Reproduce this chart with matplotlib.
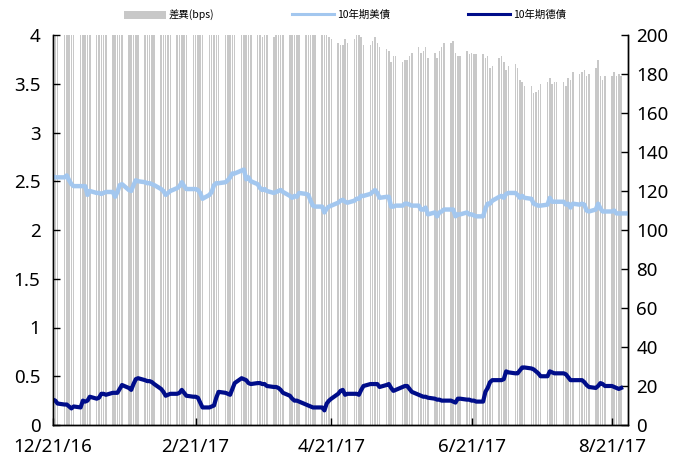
import numpy as np
import pandas as pd
import matplotlib
matplotlib.use("Agg")
import matplotlib.pyplot as plt
from matplotlib.patches import Patch
from matplotlib.lines import Line2D

plt.rcParams['font.family'] = ['Noto Sans', 'Noto Sans CJK TC', 'DejaVu Sans']

# business days 12/21/16 .. 8/28/17
dates = pd.bdate_range("2016-12-21", "2017-08-28")

# 10年期美債 (%), one row per week
us10y = [
    2.55, 2.54, 2.54,
    2.54, 2.56, 2.51, 2.47, 2.45,
    2.45, 2.45, 2.45, 2.36, 2.40,
    2.38, 2.38, 2.37, 2.38, 2.39,
    2.39, 2.34, 2.39, 2.46, 2.47,
    2.41, 2.40, 2.46, 2.51, 2.50,
    2.49, 2.48, 2.48, 2.47, 2.46,
    2.42, 2.40, 2.36, 2.38, 2.40,
    2.43, 2.45, 2.49, 2.45, 2.42,
    2.42, 2.42, 2.41, 2.38, 2.32,
    2.36, 2.39, 2.46, 2.48, 2.48,
    2.49, 2.51, 2.54, 2.58, 2.58,
    2.61, 2.62, 2.52, 2.54, 2.50,
    2.47, 2.43, 2.41, 2.42, 2.40,
    2.38, 2.39, 2.40, 2.41, 2.39,
    2.35, 2.33, 2.35, 2.34, 2.38,
    2.37, 2.36, 2.30, 2.25, 2.24,
    2.24, 2.18, 2.22, 2.24, 2.25,
    2.28, 2.30, 2.31, 2.29, 2.28,
    2.30, 2.32, 2.32, 2.35, 2.35,
    2.37, 2.39, 2.41, 2.38, 2.33,
    2.34, 2.34, 2.24, 2.24, 2.25,
    2.25, 2.27, 2.27, 2.26, 2.25,
    2.25, 2.21, 2.21, 2.23, 2.16,
    2.18, 2.14, 2.18, 2.19, 2.21,
    2.21, 2.21, 2.14, 2.16, 2.16,
    2.18, 2.16, 2.16, 2.15, 2.14,
    2.14, 2.22, 2.27, 2.27, 2.30,
    2.34, 2.35, 2.33, 2.37, 2.38,
    2.38, 2.36, 2.33, 2.35, 2.33,
    2.32, 2.27, 2.26, 2.25, 2.25,
    2.26, 2.33, 2.29, 2.29, 2.29,
    2.29, 2.26, 2.27, 2.23, 2.27,
    2.26, 2.27, 2.26, 2.20, 2.19,
    2.21, 2.27, 2.22, 2.19, 2.19,
    2.19, 2.20, 2.17, 2.17, 2.17,
    2.17,
]

# 10年期德債 (%)
de10y = [
    0.26, 0.25, 0.22,
    0.21, 0.21, 0.19, 0.17, 0.19,
    0.18, 0.25, 0.24, 0.25, 0.29,
    0.27, 0.28, 0.32, 0.32, 0.31,
    0.33, 0.33, 0.33, 0.37, 0.41,
    0.38, 0.36, 0.42, 0.47, 0.48,
    0.46, 0.45, 0.45, 0.44, 0.42,
    0.37, 0.34, 0.30, 0.31, 0.32,
    0.32, 0.33, 0.36, 0.33, 0.30,
    0.29, 0.29, 0.28, 0.23, 0.18,
    0.18, 0.19, 0.20, 0.28, 0.34,
    0.33, 0.32, 0.31, 0.37, 0.43,
    0.48, 0.47, 0.46, 0.43, 0.42,
    0.43, 0.43, 0.42, 0.42, 0.40,
    0.39, 0.39, 0.38, 0.36, 0.33,
    0.30, 0.27, 0.25, 0.25, 0.24,
    0.21, 0.20, 0.19, 0.18, 0.18,
    0.18, 0.15, 0.22, 0.25, 0.27,
    0.32, 0.35, 0.36, 0.31, 0.32,
    0.32, 0.32, 0.31, 0.36, 0.40,
    0.42, 0.42, 0.42, 0.42, 0.39,
    0.41, 0.42, 0.38, 0.35, 0.36,
    0.39, 0.40, 0.40, 0.37, 0.34,
    0.31, 0.30, 0.29, 0.29, 0.28,
    0.27, 0.26, 0.26, 0.25, 0.25,
    0.25, 0.24, 0.23, 0.27, 0.27,
    0.26, 0.26, 0.25, 0.25, 0.24,
    0.24, 0.34, 0.38, 0.44, 0.46,
    0.46, 0.46, 0.47, 0.55, 0.54,
    0.53, 0.53, 0.56, 0.59, 0.59,
    0.58, 0.57, 0.55, 0.53, 0.50,
    0.50, 0.55, 0.54, 0.53, 0.53,
    0.53, 0.52, 0.49, 0.46, 0.46,
    0.46, 0.46, 0.44, 0.41, 0.39,
    0.38, 0.40, 0.43, 0.42, 0.40,
    0.40, 0.39, 0.38, 0.37, 0.38,
    np.nan,
]

us = np.array(us10y)
de = np.array(de10y)
spread_bps = (us - de) * 100  # 差異 = 美債 - 德債

xtick_dates = pd.to_datetime(["2016-12-21", "2017-02-21", "2017-04-21", "2017-06-21", "2017-08-21"])
xtick_labels = ["12/21/16", "2/21/17", "4/21/17", "6/21/17", "8/21/17"]

us_color = "#a3c7ef"
de_color = "#000d8a"
bar_color = "#c8c8c8"

fig = plt.figure(figsize=(6.78, 4.63), dpi=100)
ax = fig.add_axes([53 / 678, 38 / 463, 575 / 678, 390 / 463])
ax2 = ax.twinx()

ax2.bar(dates, spread_bps, width=0.62, color=bar_color, linewidth=0)
ax.plot(dates, us, color=us_color, lw=3.2, solid_joinstyle="round")
ax.plot(dates, de, color=de_color, lw=3.0, solid_joinstyle="round")

ax.set_zorder(ax2.get_zorder() + 1)
ax.patch.set_visible(False)

ax.set_xlim(pd.Timestamp("2016-12-21"), pd.Timestamp("2017-08-28"))
ax.set_ylim(0, 4)
ax2.set_ylim(0, 200)
ax.set_yticks(np.arange(0, 4.01, 0.5))
ax.set_yticklabels(["0", "0.5", "1", "1.5", "2", "2.5", "3", "3.5", "4"])
ax2.set_yticks(np.arange(0, 201, 20))
ax.set_xticks(xtick_dates)
ax.set_xticklabels(xtick_labels)

for a in (ax, ax2):
    a.spines["top"].set_visible(False)
    for s in ("left", "right", "bottom"):
        a.spines[s].set_color("black")
        a.spines[s].set_linewidth(1.0)
ax.tick_params(axis="y", direction="in", length=5, width=1, pad=9, labelsize=13.5)
ax.tick_params(axis="x", direction="in", length=5, width=1, pad=9, labelsize=13.5)
ax2.tick_params(axis="y", direction="in", length=5, width=1, pad=6, labelsize=13.5)

handles = [
    Patch(facecolor=bar_color, edgecolor="none"),
    Line2D([], [], color=us_color, lw=2.2),
    Line2D([], [], color=de_color, lw=2.2),
]
labels = ["差異(bps)", "10年期美債", "10年期德債"]
fig.legend(handles, labels, loc="center", bbox_to_anchor=(345 / 678, 0.968),
           ncol=3, frameon=False, handlelength=4.0, handleheight=0.8,
           handletextpad=0.3, columnspacing=7.5,
           prop={"family": ["Noto Sans CJK TC"], "size": 7.5})

fig.savefig("out.png", dpi=100)
